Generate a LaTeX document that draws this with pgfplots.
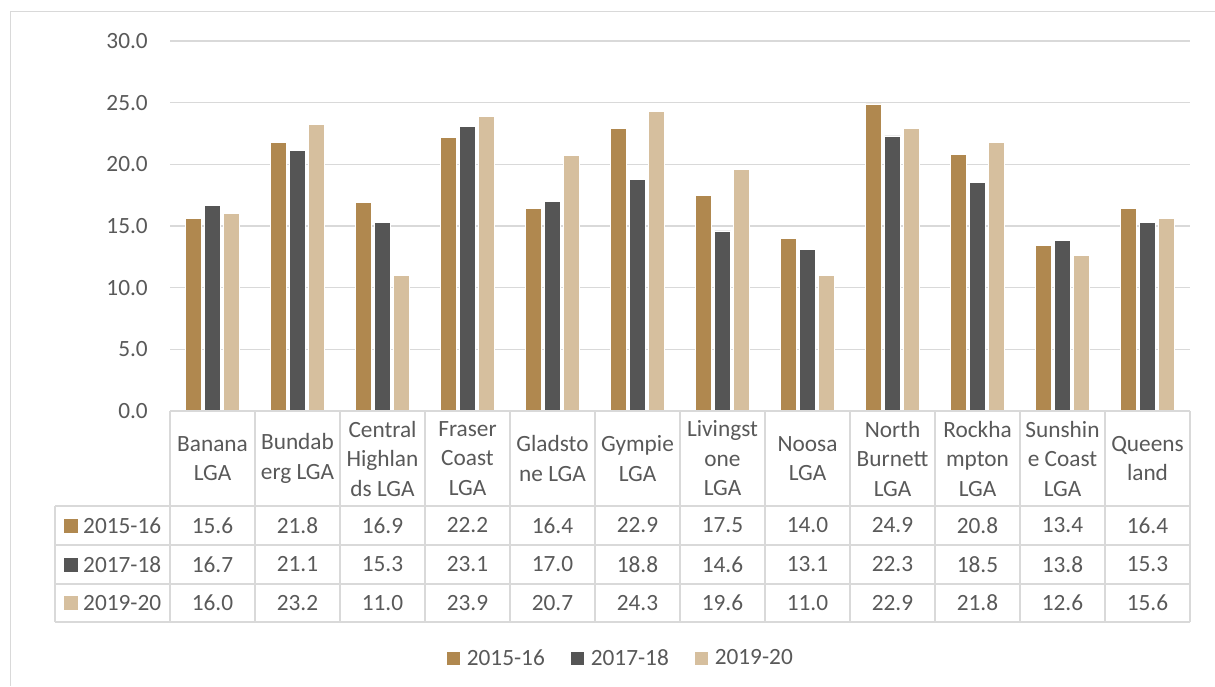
\documentclass[border=0pt]{standalone}
\usepackage{pgfplots}
\usepackage{pgfplotstable}
\pgfplotsset{compat=1.18}
\usepackage{fontspec}
\setmainfont{Carlito}
\definecolor{cA}{HTML}{B0884F}
\definecolor{cB}{HTML}{555555}
\definecolor{cC}{HTML}{D6BF9E}
\definecolor{txt}{HTML}{595959}
\definecolor{grd}{HTML}{D9D9D9}

\pgfplotstableread{
x a b c
0 15.6 16.7 16.0
1 21.8 21.1 23.2
2 16.9 15.3 11.0
3 22.2 23.1 23.9
4 16.4 17.0 20.7
5 22.9 18.8 24.3
6 17.5 14.6 19.6
7 14.0 13.1 11.0
8 24.9 22.3 22.9
9 20.8 18.5 21.8
10 13.4 13.8 12.6
11 16.4 15.3 15.6
}\data

\newcommand{\fs}{\fontsize{23.3}{29.5}\selectfont}

\begin{document}
\begin{tikzpicture}
\begin{scope}[x=1pt,y=-1pt,shift={(0pt,686pt)}]
\useasboundingbox (0,0) rectangle (1215,686);
\draw[grd, line width=1pt] (10,686) -- (10,12) -- (1215,12);
\end{scope}
\begin{axis}[
  at={(170pt,275pt)}, anchor=south west,
  scale only axis, width=1020pt, height=370pt,
  xmin=-0.5, xmax=11.5, ymin=0, ymax=30,
  ytick={0,5,...,30}, xtick=\empty,
  ymajorgrids, grid style={grd, line width=1.3pt},
  axis line style={draw=none},
  major tick length=0pt, tick style={draw=none},
  ybar=3.5pt, bar width=15.5pt,
  yticklabel={\pgfmathprintnumber[fixed,fixed zerofill,precision=1,assume math mode=true]{\tick}},
  yticklabel style={font=\fs, text=txt, inner sep=0pt, xshift=-22pt},
  legend style={at={(0.441,-0.6676)}, anchor=center, draw=none, legend columns=3,
    font=\fs, text=txt, nodes={inner sep=0pt},
    /tikz/every odd column/.append style={column sep=7pt},
    /tikz/every even column/.append style={column sep=26pt}},
  legend image code/.code={\fill[#1, draw=none] (0pt,-6.5pt) rectangle (13pt,6.5pt);},
  clip=false,
]
\addplot[fill=cA, draw=white, line width=0.8pt] table[x=x,y=a]{\data};
\addplot[fill=cB, draw=white, line width=0.8pt] table[x=x,y=b]{\data};
\addplot[fill=cC, draw=white, line width=0.8pt] table[x=x,y=c]{\data};
\legend{2015-16,2017-18,2019-20}
\end{axis}
\begin{scope}[x=1pt,y=-1pt,shift={(0pt,686pt)}, every node/.style={font=\fs, text=txt, inner sep=0pt}]
% table grid
\foreach \k in {0,...,12} {\draw[grd, line width=1.3pt] ({170+85*\k},411) -- ({170+85*\k},622);}
\draw[grd, line width=1.3pt] (170,411) -- (1190,411);
\foreach \yy in {506,545,584,622} {\draw[grd, line width=1.3pt] (55,\yy) -- (1190,\yy);}
\draw[grd, line width=1.3pt] (55,506) -- (55,622);
% row labels
\fill[cA] (64,518.5) rectangle (78,532.5);
\fill[cB] (64,557.5) rectangle (78,571.5);
\fill[cC] (64,596) rectangle (78,610);
\node[anchor=west] at (83,525.5) {2015-16};
\node[anchor=west] at (83,564.5) {2017-18};
\node[anchor=west] at (83,603) {2019-20};
% headers
\foreach \k/\lab in {0/{Banana\\LGA},1/{Bundab\\erg LGA},2/{Central\\Highlan\\ds LGA},3/{Fraser\\Coast\\LGA},4/{Gladsto\\ne LGA},5/{Gympie\\LGA},6/{Livingst\\one\\LGA},7/{Noosa\\LGA},8/{North\\Burnett\\LGA},9/{Rockha\\mpton\\LGA},10/{Sunshin\\e Coast\\LGA},11/{Queens\\land}}
  {\node[align=center] at ({212.5+85*\k},458.5) {\lab};}
% values
\foreach \k/\va/\vb/\vc in {0/15.6/16.7/16.0,1/21.8/21.1/23.2,2/16.9/15.3/11.0,3/22.2/23.1/23.9,4/16.4/17.0/20.7,5/22.9/18.8/24.3,6/17.5/14.6/19.6,7/14.0/13.1/11.0,8/24.9/22.3/22.9,9/20.8/18.5/21.8,10/13.4/13.8/12.6,11/16.4/15.3/15.6}
  {\node at ({212.5+85*\k},525.5) {\va};
   \node at ({212.5+85*\k},564.5) {\vb};
   \node at ({212.5+85*\k},603) {\vc};}
\end{scope}
\end{tikzpicture}
\end{document}
